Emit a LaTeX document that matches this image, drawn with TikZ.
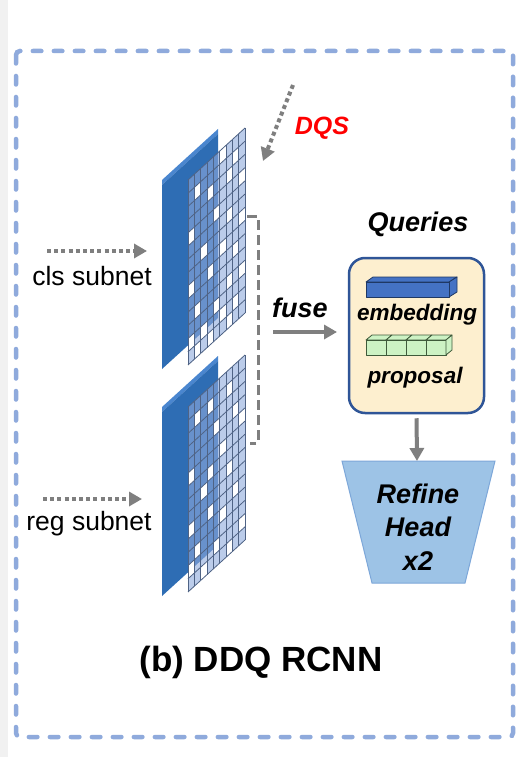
\documentclass[tikz,border=0pt]{standalone}
\usepackage{fontspec}
\setmainfont{Liberation Sans}
\usetikzlibrary{arrows.meta}
\definecolor{frameblue}{HTML}{8FAADC}
\definecolor{slabblue}{HTML}{2E6DB4}
\definecolor{slabtop}{HTML}{4A86CF}
\definecolor{gridfill}{HTML}{8FAADC}
\definecolor{gridline}{HTML}{4F6385}
\definecolor{arrowgray}{HTML}{7F7F7F}
\definecolor{boxfill}{HTML}{FDEFCF}
\definecolor{boxline}{HTML}{2F5597}
\definecolor{embblue}{HTML}{4472C4}
\definecolor{embline}{HTML}{1F3864}
\definecolor{propgreen}{HTML}{CDF2C4}
\definecolor{propline}{HTML}{3F5A3A}
\definecolor{headfill}{HTML}{9DC3E6}
\definecolor{headline}{HTML}{7DA7D9}
\definecolor{dqsred}{HTML}{FF0000}
\definecolor{stripgray}{HTML}{F1F1F1}
\tikzset{
  dotarrow/.style={draw=arrowgray, line width=4pt, dash pattern=on 4pt off 3.2pt,
    -{Triangle[length=13pt,width=14pt]}},
  solidarrow/.style={draw=arrowgray, line width=4pt, -{Triangle[length=13pt,width=14pt]}},
  bracket/.style={draw=arrowgray, line width=3pt, dash pattern=on 10pt off 5pt},
  lbl/.style={font=\fontsize{26.5}{30}\selectfont, inner sep=0pt},
  bilbl/.style={font=\fontsize{27}{33.5}\selectfont\bfseries\itshape, inner sep=0pt, align=center},
  smalllbl/.style={font=\fontsize{22.5}{26}\selectfont\bfseries\itshape, inner sep=0pt},
  titlelbl/.style={font=\fontsize{35}{40}\selectfont\bfseries, inner sep=0pt},
  qboxstyle/.style={draw=boxline, fill=boxfill, line width=2.5pt, rounded corners=16pt,
    minimum width=135pt, minimum height=155pt, inner sep=0pt},
  cubeemb/.style={fill=embblue, draw=embline, line width=0.8pt, line join=round},
  cubeprop/.style={fill=propgreen, draw=propline, line width=0.8pt, line join=round},
  frame/.style={draw=frameblue, line width=4.5pt, dash pattern=on 8.5pt off 12.5pt, line cap=round, rounded corners=4pt},
}
\newcommand\featmap[2]{%
  \begin{scope}[shift={(0,#1)}]
    \fill[slabtop] (162,180) -- (218,129) -- (218,134) -- (162,185) -- cycle;
    \fill[slabblue] (162,185) -- (218,134) -- (218,318) -- (162,369) -- cycle;
    \begin{scope}[shift={(188,180)}, x={(6.333pt,5.778pt)}, y={(0pt,-13.214pt)}]
      \fill[gridfill, opacity=0.6] (0,0) -- (9,0) -- (9,14) -- (0,14) -- cycle;
      \foreach \i/\j in {#2} {
        \fill[white] (\i,\j) -- (\i+1,\j) -- (\i+1,\j+1) -- (\i,\j+1) -- cycle;
      }
      \foreach \i in {0,...,9} { \draw[gridline, line width=0.8pt] (\i,0) -- (\i,14); }
      \foreach \j in {0,...,14} { \draw[gridline, line width=0.8pt] (0,\j) -- (9,\j); }
    \end{scope}
  \end{scope}}
\begin{document}
\begin{tikzpicture}[x=1pt,y=-1pt]
  \useasboundingbox (0,0) rectangle (529,757);
  \fill[white] (0,0) rectangle (529,757);
  \fill[stripgray] (0,0) rectangle (8,757);
  \draw[frame] (16,51) rectangle (513,737);

  % feature maps
  \featmap{0}{1/1,3/2,5/0,6/2,7/1,8/3,0/4,4/4,6/5,2/6,8/6,5/7,0/8,3/8,7/8,6/10,1/10,4/11,8/10,2/12,5/12,7/12,0/12,3/13,6/13,1/13}
  \featmap{227}{1/1,3/1,6/1,7/3,4/3,0/5,5/5,8/4,2/7,6/7,3/9,0/9,7/9,5/10,1/11,4/12,8/12,2/13,6/13,0/12,3/6}

  % anchor coordinates
  \coordinate (clsfrom) at (47,251);
  \coordinate (clsto) at (147,251);
  \coordinate (regfrom) at (43,499);
  \coordinate (regto) at (142,499);
  \coordinate (dqsfrom) at (293,85);
  \coordinate (dqsto) at (263,161);
  \coordinate (map1e) at (247,216);
  \coordinate (map2e) at (250,443);
  \coordinate (fusefrom) at (273,332);
  \coordinate (fuseto) at (337,332);
  \coordinate (headtop) at (417,461);

  % labels
  \node[lbl] (clstxt) at (92,276) {cls subnet};
  \node[lbl] (regtxt) at (89,524) {reg subnet};
  \node[bilbl, text=dqsred, font=\fontsize{25}{30}\selectfont\bfseries\itshape] (dqstxt) at (322,128) {DQS};
  \node[bilbl] (fusetxt) at (300,308) {fuse};
  \node[bilbl] (qtxt) at (418,224) {Queries};

  % arrows
  \draw[dotarrow] (clsfrom) -- (clsto);
  \draw[dotarrow] (regfrom) -- (regto);
  \draw[dotarrow] (dqsfrom) -- (dqsto);
  \draw[bracket] (map1e) -- ++(11,0) |- (map2e);
  \draw[solidarrow] (fusefrom) -- (fuseto);

  % queries box
  \node[qboxstyle] (qbox) at (416.5,335.5) {};
  % embedding cuboid
  \draw[cubeemb] (366,282) -- (373,277) -- (457,277) -- (449,282) -- cycle;
  \draw[cubeemb] (449,282) -- (457,277) -- (457,292) -- (449,297) -- cycle;
  \draw[cubeemb] (366,282) rectangle (449,297);
  \node[smalllbl] (embtxt) at (417,315) {embedding};
  % proposal cubes
  \foreach \k in {0,1,2,3} {
    \draw[cubeprop] ({366+20*\k},340) -- ({372+20*\k},335) -- ({392+20*\k},335) -- ({386+20*\k},340) -- cycle;
    \draw[cubeprop] ({366+20*\k},340) rectangle ({386+20*\k},355);
  }
  \draw[cubeprop] (446,340) -- (452,335) -- (452,350) -- (446,355) -- cycle;
  \node[smalllbl] (proptxt) at (415,378) {proposal};

  % refine head
  \draw[fill=headfill, draw=headline, line width=1pt] (342,461) -- (495,461) -- (465,583) -- (372,583) -- cycle;
  \node[bilbl] (head) at (418,527) {Refine\\Head\\x2};
  \draw[solidarrow, shorten <=4pt] (qbox.south) -- (headtop);

  % title
  \node[titlelbl] (title) at (261,662) {(b) DDQ RCNN};
\end{tikzpicture}
\end{document}
